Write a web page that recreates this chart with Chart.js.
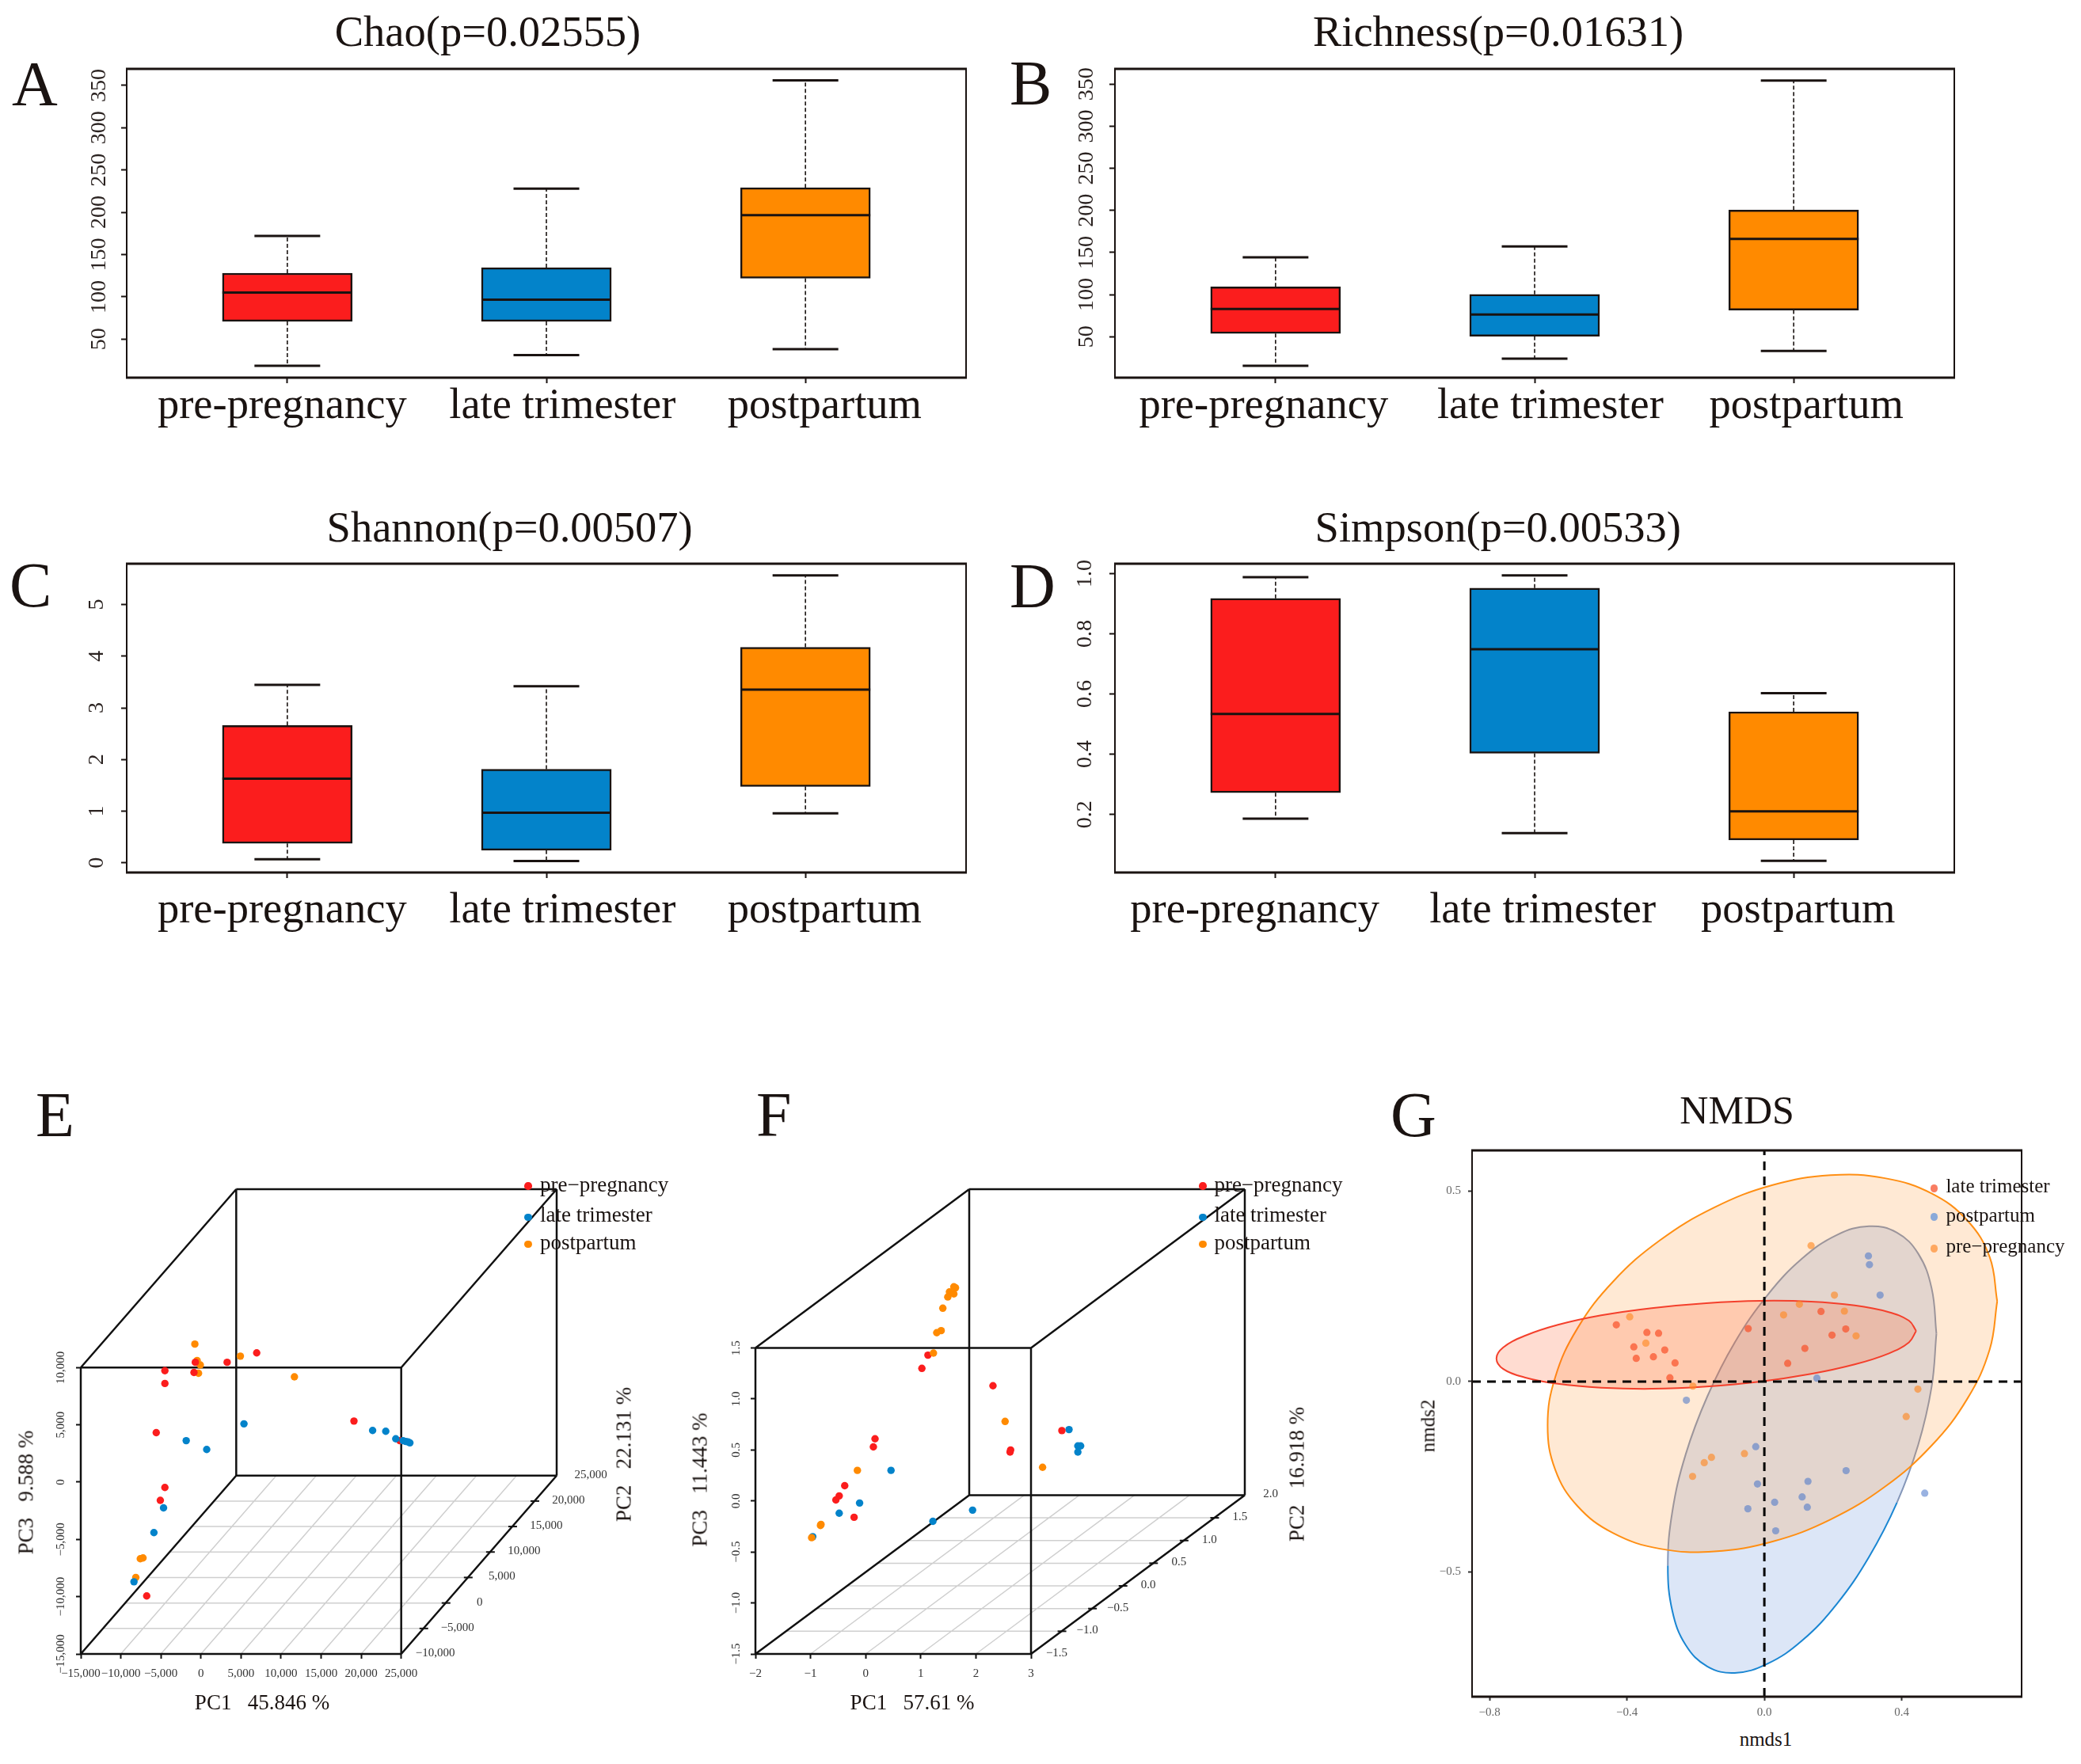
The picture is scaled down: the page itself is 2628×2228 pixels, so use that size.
<!DOCTYPE html>
<html lang="en">
<head>
<meta charset="UTF-8" />
<title>Alpha diversity, PCA and NMDS</title>
<style>
  body { margin: 0; background: #fff; }
  #page { position: relative; width: 2628px; height: 2228px; overflow: hidden; font-family: "Liberation Serif", serif; color: #1a1311; }
  canvas { position: absolute; }
  .label { position: absolute; white-space: pre; line-height: 1; z-index: 2; }
  .dot { position: absolute; border-radius: 50%; z-index: 2; }
</style>
</head>
<body>
<div id="page"></div>
<script src="https://cdn.jsdelivr.net/npm/chart.js"></script>
<script>
// box plot values: [low whisker, q1, median, q3, high whisker] per group
const groups = ['pre-pregnancy', 'late trimester', 'postpartum'];
const chao = [[18.5, 71, 105, 128, 172], [31, 71, 96.7, 134.5, 228], [38, 122, 196.7, 229, 356]];
const richness = [[15.4, 53.7, 82.8, 109.2, 144.2], [23.9, 50.4, 76.4, 100.2, 157.2], [32.9, 81.6, 166.1, 200.4, 354.4]];
const shannon = [[0.07, 0.378, 1.63, 2.66, 3.445], [0.038, 0.246, 0.969, 1.813, 3.417], [0.958, 1.479, 3.352, 4.173, 5.564]];
const simpson = [[0.186, 0.272, 0.534, 0.918, 0.988], [0.138, 0.403, 0.749, 0.952, 0.994], [0.046, 0.115, 0.21, 0.541, 0.603]];
const boxColors = ['#fb1d1d', '#0383ca', '#ff8a00'];
const countTicks = [50, 100, 150, 200, 250, 300, 350];
const shannonTicks = [0, 1, 2, 3, 4, 5];
const simpsonTicks = [0.2, 0.4, 0.6, 0.8, 1.0];

// panel E, read against the front face axes: [PC1, PC3]
const ePre = [[6960, 11280], [3270, 10460], [-700, 10460], [-870, 9570], [-4500, 9730], [-4500, 8610], [-5580, 4320], [19100, 5330], [-4500, -470], [-5070, -1590], [-6770, -9940], [24830, 3620]];
const eLate = [[5370, 5090], [-1840, 3620], [720, 2850], [21430, 4510], [23070, 4440], [24320, 3780], [25230, 3620], [25570, 3550], [25850, 3510], [26080, 3430], [-4670, -2250], [-5870, -4410], [-8360, -8700]];
const ePost = [[-760, 12050], [-480, 10620], [-80, 10230], [-300, 9500], [4920, 11000], [11670, 9190], [-7230, -6620], [-7570, -6690], [-8130, -8320]];
const eXTicks = [-15000, -10000, -5000, 0, 5000, 10000, 15000, 20000, 25000];
const eYTicks = [-15000, -10000, -5000, 0, 5000, 10000];
const eDepth = [-10000, -5000, 0, 5000, 10000, 15000, 20000, 25000];

// panel F, same reading: [PC1, PC3]
const fPre = [[1.13, 1.43], [1.02, 1.30], [2.31, 1.13], [3.56, 0.69], [2.63, 0.50], [2.62, 0.48], [0.17, 0.61], [0.14, 0.53], [-0.38, 0.15], [-0.48, 0.05], [-0.54, 0.01], [-0.21, -0.16]];
const fLate = [[3.69, 0.70], [3.85, 0.54], [3.90, 0.54], [3.85, 0.48], [0.46, 0.30], [-0.11, -0.02], [-0.48, -0.12], [1.94, -0.09], [1.22, -0.20], [-0.96, -0.35]];
const fPost = [[1.63, 2.09], [1.60, 2.10], [1.52, 2.05], [1.60, 2.03], [1.49, 2.00], [1.40, 1.89], [1.37, 1.67], [1.29, 1.65], [1.23, 1.45], [2.53, 0.78], [3.21, 0.33], [-0.15, 0.30], [-0.81, -0.23], [-0.82, -0.24], [-0.98, -0.36]];
const fXTicks = [-2, -1, 0, 1, 2, 3];
const fYTicks = [-1.5, -1, -0.5, 0, 0.5, 1, 1.5];
const fDepth = [-1.5, -1, -0.5, 0, 0.5, 1, 1.5, 2];

// panel G: [nmds1, nmds2]
const gLate = [[-0.431, 0.149], [-0.342, 0.129], [-0.308, 0.127], [-0.380, 0.091], [-0.373, 0.061], [-0.323, 0.065], [-0.290, 0.083], [-0.260, 0.049], [-0.275, 0.010], [-0.047, 0.139], [0.068, 0.048], [0.118, 0.087], [0.165, 0.184], [0.197, 0.122], [0.237, 0.138]];
const gPost = [[0.303, 0.330], [0.306, 0.307], [0.337, 0.227], [0.153, 0.009], [-0.227, -0.049], [-0.025, -0.171], [-0.020, -0.269], [0.238, -0.234], [0.127, -0.262], [0.110, -0.303], [0.125, -0.330], [0.030, -0.317], [-0.048, -0.334], [0.033, -0.392], [0.467, -0.293]];
const gPre = [[-0.392, 0.170], [-0.345, 0.101], [-0.208, -0.012], [0.136, 0.357], [0.056, 0.175], [0.102, 0.203], [0.204, 0.227], [0.233, 0.185], [0.267, 0.120], [0.447, -0.020], [0.413, -0.092], [-0.058, -0.189], [-0.154, -0.199], [-0.175, -0.213], [-0.209, -0.249]];
const gXTicks = [-0.8, -0.4, 0, 0.4];
const gYTicks = [-0.5, 0, 0.5];
// ellipse outlines
const gLateRing = [[0.442, 0.133], [0.421, 0.103], [0.360, 0.073], [0.263, 0.045], [0.136, 0.020], [-0.011, 0.000], [-0.169, -0.013], [-0.328, -0.019], [-0.475, -0.016], [-0.601, -0.006], [-0.698, 0.011], [-0.760, 0.033], [-0.780, 0.061], [-0.760, 0.090], [-0.698, 0.120], [-0.601, 0.149], [-0.475, 0.174], [-0.328, 0.193], [-0.169, 0.206], [-0.011, 0.212], [0.136, 0.210], [0.263, 0.200], [0.360, 0.183], [0.421, 0.160], [0.442, 0.133]];
const gPostRing = [[0.501, 0.126], [0.487, -0.014], [0.448, -0.166], [0.386, -0.318], [0.305, -0.460], [0.211, -0.584], [0.110, -0.680], [0.009, -0.741], [-0.086, -0.765], [-0.166, -0.748], [-0.229, -0.692], [-0.268, -0.602], [-0.281, -0.483], [-0.268, -0.342], [-0.229, -0.191], [-0.166, -0.039], [-0.086, 0.103], [0.009, 0.227], [0.110, 0.323], [0.211, 0.385], [0.305, 0.408], [0.386, 0.391], [0.448, 0.336], [0.487, 0.245], [0.501, 0.126]];
const gPreRing = [[0.678, 0.211], [0.656, 0.084], [0.591, -0.045], [0.487, -0.168], [0.351, -0.276], [0.193, -0.362], [0.024, -0.420], [-0.146, -0.446], [-0.304, -0.439], [-0.440, -0.398], [-0.544, -0.327], [-0.609, -0.231], [-0.631, -0.115], [-0.609, 0.011], [-0.544, 0.140], [-0.440, 0.263], [-0.304, 0.371], [-0.146, 0.457], [0.024, 0.516], [0.193, 0.542], [0.351, 0.534], [0.487, 0.494], [0.591, 0.423], [0.656, 0.327], [0.678, 0.211]];

const serif = 'Liberation Serif';
const ink = '#1a1311';
const page = document.getElementById('page');
const xy = pts => pts.map(p => ({ x: p[0], y: p[1] }));
const minus = s => String(s).replace('-', '\u2212');
const tickList = list => s => { s.ticks = list.map(value => ({ value })); };

function label(str, x, y, size, how) {
  const el = document.createElement('div');
  el.className = 'label';
  el.textContent = str;
  el.style.fontSize = size + 'px';
  el.style.left = x + 'px';
  if (how === 'rot') {           // x, y = centre, reads upwards
    el.style.top = y + 'px';
    el.style.transform = 'translate(-50%,-50%) rotate(-90deg)';
  } else {                       // y = baseline
    el.style.top = (y - 0.8375 * size) + 'px';
    if (how === 'mid') el.style.transform = 'translateX(-50%)';
  }
  page.appendChild(el);
}

function legend(dotX, textX, ys, names, colors, size, r) {
  names.forEach((name, i) => {
    const d = document.createElement('div');
    d.className = 'dot';
    d.style.cssText = `left:${dotX - r}px;top:${ys[i][0] - r}px;width:${2 * r}px;height:${2 * r}px;background:${colors[i]}`;
    page.appendChild(d);
    label(name, textX, ys[i][1] + 0.3 * size, size);
  });
}

// makes a canvas so that the plot area lands on the given rectangle
function makeCanvas(rect, m) {
  const c = document.createElement('canvas');
  const w = rect.r - rect.l + m.l + m.r, h = rect.b - rect.t + m.t + m.b;
  c.width = w; c.height = h;
  c.style.left = (rect.l - m.l) + 'px';
  c.style.top = (rect.t - m.t) + 'px';
  c.style.width = w + 'px';
  c.style.height = h + 'px';
  page.appendChild(c);
  return c;
}

const frame = {
  id: 'frame',
  afterDatasetsDraw(chart) {
    const { left, right, top, bottom } = chart.chartArea, ctx = chart.ctx;
    ctx.save();
    ctx.strokeStyle = ink;
    ctx.lineWidth = 3;
    ctx.beginPath();
    ctx.moveTo(left - 1, top); ctx.lineTo(right + 1, top);
    ctx.moveTo(left - 1, bottom); ctx.lineTo(right + 1, bottom);
    ctx.stroke();
    ctx.lineWidth = 2;
    ctx.beginPath();
    ctx.moveTo(left, top); ctx.lineTo(left, bottom);
    ctx.moveTo(right, top); ctx.lineTo(right, bottom);
    ctx.stroke();
    ctx.restore();
  }
};

// whiskers, caps and medians on top of the floating bars
function boxMarks(stats) {
  return {
    id: 'boxMarks',
    afterDatasetsDraw(chart) {
      const ctx = chart.ctx, sx = chart.scales.x, sy = chart.scales.y;
      ctx.save();
      ctx.strokeStyle = ink;
      stats.forEach((s, i) => {
        const x = sx.getPixelForValue(i + 1);
        ctx.lineWidth = 1.6;
        ctx.setLineDash([5, 3]);
        ctx.beginPath();
        ctx.moveTo(x, sy.getPixelForValue(s[3])); ctx.lineTo(x, sy.getPixelForValue(s[4]));
        ctx.moveTo(x, sy.getPixelForValue(s[1])); ctx.lineTo(x, sy.getPixelForValue(s[0]));
        ctx.stroke();
        ctx.setLineDash([]);
        ctx.lineWidth = 3;
        ctx.beginPath();
        [s[0], s[4]].forEach(v => {
          ctx.moveTo(x - 41.5, sy.getPixelForValue(v)); ctx.lineTo(x + 41.5, sy.getPixelForValue(v));
        });
        ctx.moveTo(x - 82, sy.getPixelForValue(s[2])); ctx.lineTo(x + 82, sy.getPixelForValue(s[2]));
        ctx.stroke();
      });
      ctx.restore();
    }
  };
}

function boxChart(rect, stats, yLim, yTicks, fmt, labelAt, yPad, xPad) {
  const m = { l: 70, r: 20, t: 60, b: 100 };
  const canvas = makeCanvas(rect, m);
  new Chart(canvas, {
    type: 'bar',
    data: {
      datasets: [{
        data: stats.map((s, i) => ({ x: i + 1, y: [s[1], s[3]] })),
        backgroundColor: boxColors,
        borderColor: ink,
        borderWidth: 2.5,
        borderSkipped: false,
        barThickness: 164,
        grouped: false
      }]
    },
    options: {
      responsive: false, animation: false, devicePixelRatio: 1,
      layout: { padding: { top: m.t, right: m.r } },
      plugins: { legend: { display: false }, tooltip: { enabled: false } },
      scales: {
        x: {
          type: 'linear', min: 0.38, max: 3.62, offset: false, bounds: 'data',
          grid: { offset: false, drawOnChartArea: false, tickLength: 7, tickWidth: 2, tickColor: ink },
          border: { display: false },
          ticks: { display: false },
          afterBuildTicks: tickList([1, 2, 3]),
          afterFit: s => { s.height = 7; }
        },
        // the group names sit a little off their tick marks, so they get their own axis
        x2: {
          type: 'linear', position: 'bottom', min: 0.38, max: 3.62, offset: false, bounds: 'data',
          grid: { display: false, drawTicks: false, offset: false },
          border: { display: false },
          ticks: {
            autoSkip: false, maxRotation: 0, padding: xPad, color: ink,
            font: { family: serif, size: 54.5 },
            callback: (v, i) => groups[i]
          },
          afterBuildTicks: tickList(labelAt),
          afterFit: s => { s.height = m.b - 7; }
        },
        y: {
          min: yLim[0], max: yLim[1], bounds: 'data',
          grid: { drawOnChartArea: false, tickLength: 7, tickWidth: 2, tickColor: ink },
          border: { display: false },
          ticks: {
            autoSkip: false, minRotation: 90, maxRotation: 90, crossAlign: 'center', padding: yPad, color: '#2a2220',
            font: { family: serif, size: 28 },
            callback: fmt
          },
          afterBuildTicks: tickList(yTicks),
          afterFit: s => { s.width = m.l; }
        }
      }
    },
    plugins: [boxMarks(stats), frame]
  });
}

// oblique box: the depth axis shifts a point by (dx, dy) in front-face units
function cube(o) {
  const at = (chart, x, d, y) => {
    const k = (d - o.depth[0]) / (o.depth[o.depth.length - 1] - o.depth[0]);
    return [chart.scales.x.getPixelForValue(x + k * o.dx), chart.scales.y.getPixelForValue(y + k * o.dy)];
  };
  const seg = (ctx, a, b) => { ctx.moveTo(a[0], a[1]); ctx.lineTo(b[0], b[1]); };
  return {
    id: 'cube',
    beforeDatasetsDraw(chart) {
      const ctx = chart.ctx, x0 = o.xTicks[0], x1 = o.xTicks[o.xTicks.length - 1];
      const y0 = o.yTicks[0], y1 = o.yTicks[o.yTicks.length - 1];
      const d0 = o.depth[0], d1 = o.depth[o.depth.length - 1];
      ctx.save();
      // floor grid
      ctx.strokeStyle = '#cfcfcf';
      ctx.lineWidth = 1.5;
      ctx.beginPath();
      o.depth.slice(1, -1).forEach(d => seg(ctx, at(chart, x0, d, y0), at(chart, x1, d, y0)));
      o.xTicks.slice(1, -1).forEach(x => seg(ctx, at(chart, x, d0, y0), at(chart, x, d1, y0)));
      ctx.stroke();
      // box edges
      ctx.strokeStyle = '#111';
      ctx.lineWidth = 2.5;
      ctx.beginPath();
      [x0, x1].forEach(x => {
        seg(ctx, at(chart, x, d0, y0), at(chart, x, d0, y1));
        seg(ctx, at(chart, x, d1, y0), at(chart, x, d1, y1));
        seg(ctx, at(chart, x, d0, y0), at(chart, x, d1, y0));
        seg(ctx, at(chart, x, d0, y1), at(chart, x, d1, y1));
      });
      [y0, y1].forEach(y => {
        seg(ctx, at(chart, x0, d0, y), at(chart, x1, d0, y));
        seg(ctx, at(chart, x0, d1, y), at(chart, x1, d1, y));
      });
      ctx.stroke();
      // depth axis ticks and labels
      ctx.lineWidth = 2;
      ctx.fillStyle = '#333';
      ctx.font = '15px "' + serif + '"';
      ctx.textAlign = 'center';
      ctx.textBaseline = 'middle';
      o.depth.forEach((d, i) => {
        const p = at(chart, x1, d, y0);
        if (i > 0 && i < o.depth.length - 1) {
          ctx.beginPath();
          ctx.moveTo(p[0] - 5, p[1]); ctx.lineTo(p[0] + 6, p[1]);
          ctx.stroke();
        }
        ctx.fillText(minus(o.depthFmt(d)), p[0] + o.depthGap, p[1] - 1);
      });
      ctx.restore();
    }
  };
}

function cubeChart(rect, o, series) {
  const m = { l: 100, r: 90, t: 30, b: 50 };
  const canvas = makeCanvas(rect, m);
  new Chart(canvas, {
    type: 'scatter',
    data: {
      datasets: series.map(s => ({
        data: xy(s.pts), backgroundColor: s.color, borderWidth: 0, pointRadius: 4.7, clip: false
      }))
    },
    options: {
      responsive: false, animation: false, devicePixelRatio: 1,
      layout: { padding: { top: m.t, right: m.r } },
      plugins: { legend: { display: false }, tooltip: { enabled: false } },
      scales: {
        x: {
          min: o.xTicks[0], max: o.xTicks[o.xTicks.length - 1] + o.dx, bounds: 'data',
          grid: { drawOnChartArea: false, tickLength: 6, tickWidth: 2, tickColor: '#111' },
          border: { display: false },
          ticks: {
            autoSkip: false, maxRotation: 0,
            padding: o.xPad, color: '#333', font: { family: serif, size: 15 },
            callback: v => minus(o.xFmt(v))
          },
          afterBuildTicks: tickList(o.xTicks),
          afterFit: s => { s.height = m.b; }
        },
        y: {
          min: o.yTicks[0], max: o.yTicks[o.yTicks.length - 1] + o.dy, bounds: 'data',
          grid: { drawOnChartArea: false, tickLength: 6, tickWidth: 2, tickColor: '#111' },
          border: { display: false },
          ticks: {
            autoSkip: false, minRotation: 90, maxRotation: 90, crossAlign: 'center',
            padding: o.yPad, color: '#333', font: { family: serif, size: 15 },
            callback: v => minus(o.yFmt(v))
          },
          afterBuildTicks: tickList(o.yTicks),
          afterFit: s => { s.width = m.l; }
        }
      }
    },
    plugins: [cube(o)]
  });
}

function nmdsChart(rect) {
  const m = { l: 50, r: 20, t: 30, b: 40 };
  const canvas = makeCanvas(rect, m);
  const xLim = [-0.851, 0.749], yLim = [-0.8275, 0.607];
  const cross = pts => ({ data: pts, showLine: true, pointRadius: 0, borderColor: '#000', borderWidth: 3, borderDash: [11, 8] });
  const dots = (pts, color) => ({ data: xy(pts), backgroundColor: color, borderWidth: 0, pointRadius: 4.6 });
  const ring = (pts, line, fill) => ({
    data: xy(pts), showLine: true, pointRadius: 0, borderColor: line, borderWidth: 2,
    backgroundColor: fill, fill: 'shape', tension: 0.4
  });
  // the blue outline looks greyed where the orange ellipse covers it, and
  // per-segment colours break a shape fill, so outline and fill are separate
  const postFill = Object.assign(ring(gPostRing, 'transparent', 'rgba(70,120,210,0.19)'), { borderWidth: 0 });
  const postLine = {
    data: xy(gPostRing), showLine: true, pointRadius: 0, borderColor: '#1a86d2', borderWidth: 2, fill: false, tension: 0.4,
    segment: { borderColor: c => (c.p0DataIndex >= 3 && c.p0DataIndex < 12 ? '#1a86d2' : '#8496b8') }
  };
  new Chart(canvas, {
    type: 'scatter',
    data: {
      datasets: [
        cross([{ x: xLim[0], y: 0 }, { x: xLim[1], y: 0 }]),
        cross([{ x: 0, y: yLim[0] }, { x: 0, y: yLim[1] }]),
        dots(gLate, 'rgba(250,80,40,0.7)'),
        dots(gPost, 'rgba(70,115,200,0.55)'),
        dots(gPre, 'rgba(255,135,30,0.62)'),
        ring(gLateRing, '#f4402c', 'rgba(255,90,40,0.21)'),
        ring(gPreRing, '#ff8f14', 'rgba(255,145,40,0.2)'),
        postLine,
        postFill
      ]
    },
    options: {
      responsive: false, animation: false, devicePixelRatio: 1,
      layout: { padding: { top: m.t, right: m.r } },
      plugins: { legend: { display: false }, tooltip: { enabled: false } },
      scales: {
        x: {
          min: xLim[0], max: xLim[1], bounds: 'data',
          grid: { drawOnChartArea: false, tickLength: 5, tickWidth: 2, tickColor: '#333' },
          border: { display: false },
          ticks: {
            autoSkip: false, maxRotation: 0, padding: 6,
            color: '#666', font: { family: serif, size: 15 },
            callback: v => minus(v.toFixed(1))
          },
          afterBuildTicks: tickList(gXTicks),
          afterFit: s => { s.height = m.b; }
        },
        y: {
          min: yLim[0], max: yLim[1], bounds: 'data',
          grid: { drawOnChartArea: false, tickLength: 5, tickWidth: 2, tickColor: '#333' },
          border: { display: false },
          ticks: {
            autoSkip: false, padding: 9,
            color: '#666', font: { family: serif, size: 15 },
            callback: v => minus(v.toFixed(1))
          },
          afterBuildTicks: tickList(gYTicks),
          afterFit: s => { s.width = m.l; }
        }
      }
    },
    plugins: [frame]
  });
}

// A to D
boxChart({ l: 160, r: 1220, t: 87, b: 477 }, chao, [4.4, 369.6], countTicks, v => v, [0.98, 2.062, 3.074], 6, -3);
boxChart({ l: 1408, r: 2468, t: 87, b: 477 }, richness, [1.25, 368.2], countTicks, v => v, [0.954, 2.061, 3.049], 7, -3);
boxChart({ l: 160, r: 1220, t: 712, b: 1102 }, shannon, [-0.186, 5.789], shannonTicks, v => v, [0.98, 2.062, 3.074], 23, 9);
boxChart({ l: 1408, r: 2468, t: 712, b: 1102 }, simpson, [0.007, 1.033], simpsonTicks, v => v.toFixed(1), [0.92, 2.031, 3.017], 13, 9);

// E
const comma = v => v.toLocaleString('en-US');
cubeChart({ l: 102, r: 703, t: 1502, b: 2089 }, {
  xTicks: eXTicks, yTicks: eYTicks, dx: 19404, dy: 15572,
  depth: eDepth, depthGap: 43, xFmt: comma, yFmt: comma, depthFmt: comma, xPad: 10, yPad: -6
}, [{ pts: eLate, color: boxColors[1] }, { pts: ePre, color: boxColors[0] }, { pts: ePost, color: boxColors[2] }]);

// F
cubeChart({ l: 954, r: 1572, t: 1502, b: 2089 }, {
  xTicks: fXTicks, yTicks: fYTicks, dx: 3.879, dy: 1.557,
  depth: fDepth, depthGap: 32.5, xFmt: v => v, yFmt: v => v.toFixed(1), depthFmt: v => v.toFixed(1), xPad: 10, yPad: 4
}, [{ pts: fPost, color: boxColors[2] }, { pts: fPre, color: boxColors[0] }, { pts: fLate, color: boxColors[1] }]);

// G
nmdsChart({ l: 1859, r: 2553, t: 1453, b: 2143 });

// titles and panel letters
label('Chao(p=0.02555)', 616, 58.5, 54.5, 'mid');
label('Richness(p=0.01631)', 1892, 58.5, 54.5, 'mid');
label('Shannon(p=0.00507)', 643.7, 684.6, 54.5, 'mid');
label('Simpson(p=0.00533)', 1891.7, 684.6, 54.5, 'mid');
label('NMDS', 2193.6, 1419, 50, 'mid');
[['A', 15, 133], ['B', 1275, 132], ['C', 12, 766], ['D', 1275, 767], ['E', 45, 1435], ['F', 955, 1435], ['G', 1756, 1435]]
  .forEach(l => label(l[0], l[1], l[2], 80));

// axis titles
label('PC1   45.846 %', 331, 2160, 27, 'mid');
label('PC3   9.588 %', 33, 1885, 27, 'rot');
label('PC2   22.131 %', 788, 1837, 27, 'rot');
label('PC1   57.61 %', 1152, 2160, 27, 'mid');
label('PC3   11.443 %', 884, 1869, 27, 'rot');
label('PC2   16.918 %', 1638, 1862, 27, 'rot');
label('nmds1', 2230, 2205, 25, 'mid');
label('nmds2', 1803, 1801, 25, 'rot');

// legends
const legendNames = ['pre\u2212pregnancy', 'late trimester', 'postpartum'];
const cubeLegendY = [[1498, 1498], [1537.6, 1536], [1571.7, 1571]];
legend(667, 682, cubeLegendY, legendNames, boxColors, 27, 4.7);
legend(1519, 1533.4, cubeLegendY, legendNames, boxColors, 27, 4.7);
legend(2442.7, 2457.4, [[1501, 1498], [1537, 1535], [1577, 1574]], ['late trimester', 'postpartum', 'pre\u2212pregnancy'],
  ['#f97d62', '#8aa9d9', '#ffa860'], 25, 4.6);
</script>
</body>
</html>
